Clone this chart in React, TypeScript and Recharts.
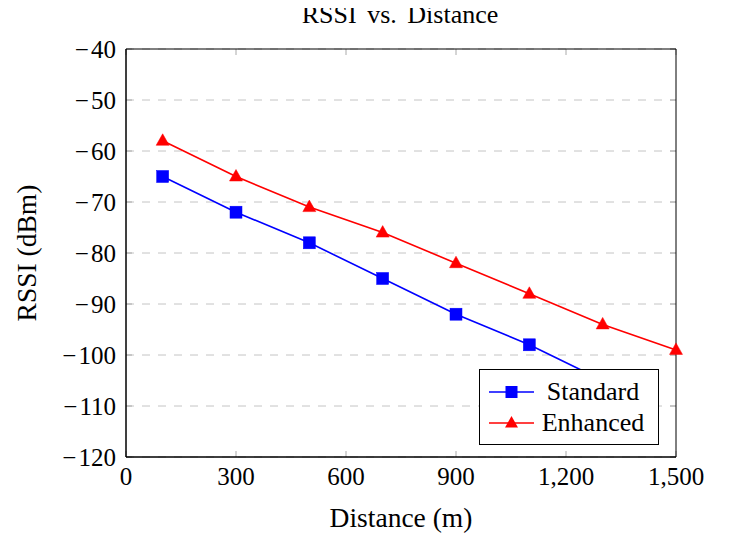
import React from 'react';
import { LineChart, Line, XAxis, YAxis, CartesianGrid, Legend, ReferenceArea } from 'recharts';

const distances = [100, 300, 500, 700, 900, 1100, 1300, 1500];
const standardRssi: (number | null)[] = [-65, -72, -78, -85, -92, -98, -105, null];
const enhancedRssi = [-58, -65, -71, -76, -82, -88, -94, -99];
const xTicks = [0, 300, 600, 900, 1200, 1500];
const yTicks = [-120, -110, -100, -90, -80, -70, -60, -50, -40];

const data = distances.map((d, i) => ({
  distance: d,
  Standard: standardRssi[i],
  Enhanced: enhancedRssi[i],
}));

const FONT = 'Liberation Serif';
const BLUE = '#0000ff';
const RED = '#ff0000';
const TICK_FS = 25;
const LABEL_FS = 27.5;
const TITLE_FS = 26;
const LEGEND_FS = 26;

const fmtY = (v: number) => (v < 0 ? '\u2212\u200A' + Math.abs(v) : String(v));
const fmtX = (v: number) => v.toLocaleString('en-US');

const SquareDot = (props: any) => {
  const { cx, cy } = props;
  if (cx == null || cy == null) return null;
  return <rect x={cx - 6} y={cy - 6} width={12} height={12} fill={BLUE} stroke={BLUE} strokeWidth={0.5} />;
};

const TriangleDot = (props: any) => {
  const { cx, cy } = props;
  if (cx == null || cy == null) return null;
  return (
    <polygon
      points={`${cx},${cy - 7} ${cx - 6.5},${cy + 4.5} ${cx + 6.5},${cy + 4.5}`}
      fill={RED}
      stroke={RED}
      strokeWidth={0.5}
    />
  );
};

const LegendBox = () => {
  const row = (color: string, marker: 'square' | 'triangle', label: string) => (
    <div style={{ display: 'flex', alignItems: 'center', height: 31 }}>
      <svg width={45} height={16} style={{ marginLeft: 9, flex: 'none' }}>
        <line x1={0} y1={8} x2={45} y2={8} stroke={color} strokeWidth={1.6} />
        {marker === 'square' ? (
          <rect x={16.5} y={2} width={12} height={12} fill={color} />
        ) : (
          <polygon points="22.5,1 16,12.5 29,12.5" fill={color} />
        )}
      </svg>
      <span style={{ flex: 1, textAlign: 'center', marginRight: 6, fontSize: LEGEND_FS, color: '#000', fontFamily: FONT }}>
        {label}
      </span>
    </div>
  );
  return (
    <div
      style={{
        width: 180,
        boxSizing: 'border-box',
        border: '1px solid #000',
        background: '#fff',
        padding: '6px 0',
        fontFamily: FONT,
        lineHeight: 1,
      }}
    >
      {row(BLUE, 'square', 'Standard')}
      {row(RED, 'triangle', 'Enhanced')}
    </div>
  );
};

export default function App() {
  return (
    <div style={{ position: 'relative', width: 735, height: 534, margin: '-8px 0 0 -8px', fontFamily: FONT }}>
      <div
        style={{
          position: 'absolute',
          left: 0,
          top: 2,
          width: 800,
          textAlign: 'center',
          fontSize: TITLE_FS,
          lineHeight: '26px',
          wordSpacing: 4,
          color: '#000',
          zIndex: 2,
          fontFamily: FONT,
          whiteSpace: 'nowrap',
        }}
      >
        RSSI vs. Distance
      </div>
      <LineChart width={735} height={534} data={data} margin={{ top: 49, right: 59, bottom: 0, left: 0 }} style={{ fontFamily: FONT }}>
        <CartesianGrid horizontal vertical={false} stroke="#c4c4c4" strokeDasharray="8 8" />
        <CartesianGrid horizontal={false} vertical stroke="#aaaaaa" strokeDasharray="6 396 6" />
        <CartesianGrid horizontal vertical={false} stroke="#aaaaaa" strokeDasharray="6 538 6" />
        <XAxis
          dataKey="distance"
          type="number"
          domain={[0, 1500]}
          ticks={xTicks}
          tickFormatter={fmtX}
          height={77}
          tickSize={8}
          tickMargin={2}
          tickLine={false}
          axisLine={{ stroke: '#000' }}
          tick={{ fill: '#000', fontSize: TICK_FS, fontFamily: FONT }}
          label={{
            content: (p: any) => {
              const vb = p.viewBox || {};
              return (
                <text
                  x={vb.x + vb.width / 2}
                  y={vb.y + 60}
                  textAnchor="middle"
                  dominantBaseline="central"
                  fontSize={LABEL_FS}
                  fontFamily={FONT}
                  fill="#000"
                >
                  Distance (m)
                </text>
              );
            },
          }}
        />
        <YAxis
          type="number"
          domain={[-120, -40]}
          ticks={yTicks}
          tickFormatter={fmtY}
          width={126}
          tickSize={8}
          tickMargin={2}
          tickLine={false}
          axisLine={{ stroke: '#000' }}
          tick={{ fill: '#000', fontSize: TICK_FS, fontFamily: FONT }}
          label={{
            content: (p: any) => {
              const vb = p.viewBox || {};
              const cx = vb.x + 26;
              const cy = vb.y + vb.height / 2;
              return (
                <text
                  x={cx}
                  y={cy}
                  transform={`rotate(-90 ${cx} ${cy})`}
                  textAnchor="middle"
                  dominantBaseline="central"
                  fontSize={LABEL_FS}
                  fontFamily={FONT}
                  fill="#000"
                >
                  RSSI (dBm)
                </text>
              );
            },
          }}
        />
        <ReferenceArea x1={0} x2={1500} y1={-120} y2={-40} fill="none" stroke="#000" strokeWidth={1} ifOverflow="visible" />
        <Line
          dataKey="Standard"
          stroke={BLUE}
          strokeWidth={1.6}
          dot={<SquareDot />}
          activeDot={false}
          isAnimationActive={false}
          connectNulls={false}
        />
        <Line
          dataKey="Enhanced"
          stroke={RED}
          strokeWidth={1.6}
          dot={<TriangleDot />}
          activeDot={false}
          isAnimationActive={false}
        />
        <Legend
          layout="vertical"
          align="center"
          verticalAlign="middle"
          content={() => <LegendBox />}
          wrapperStyle={{ position: 'absolute', left: 479, top: 369, width: 180, height: 76, margin: 0 }}
        />
      </LineChart>
    </div>
  );
}
